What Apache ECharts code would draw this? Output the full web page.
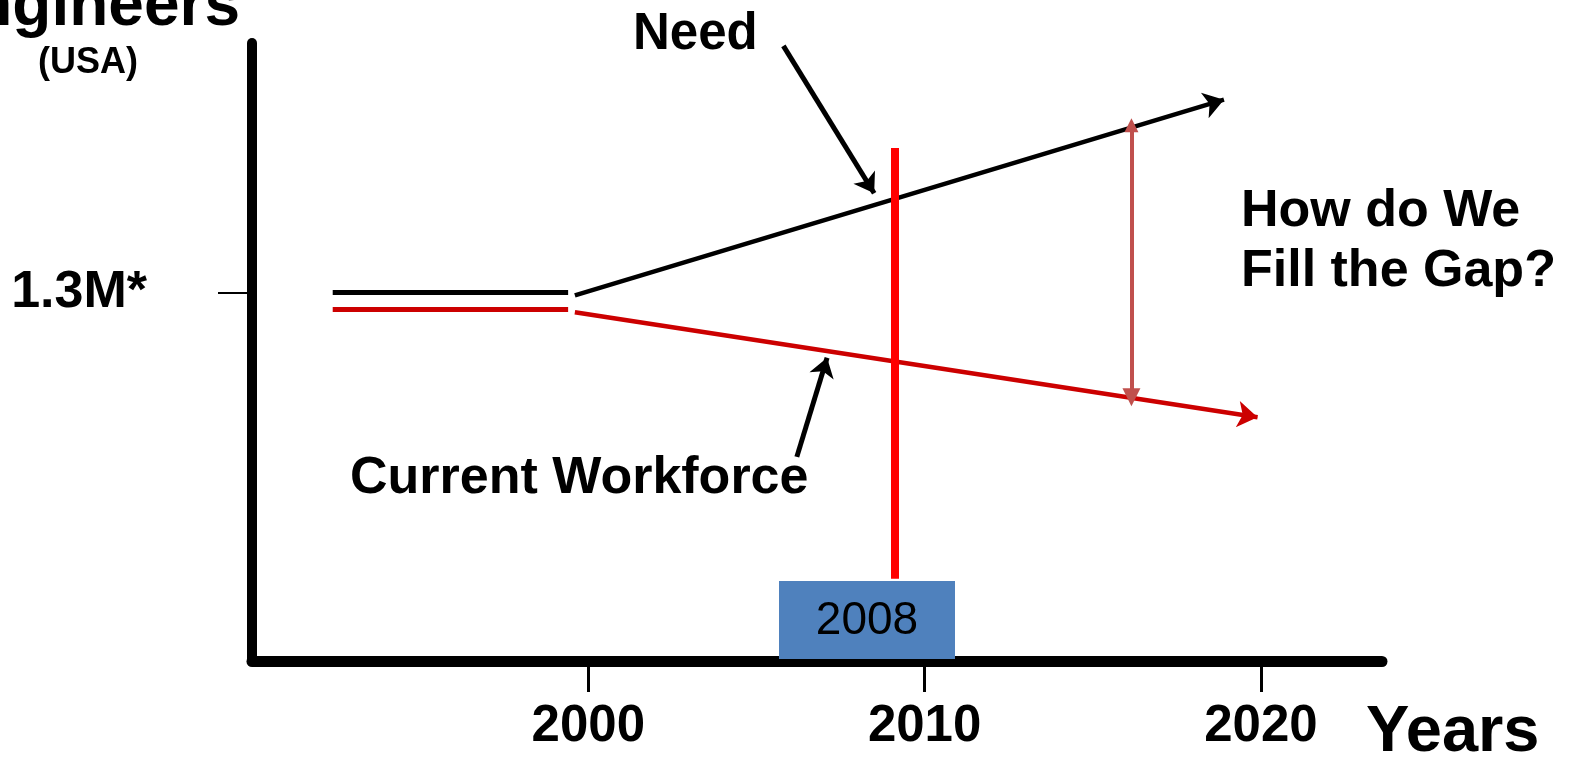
<!DOCTYPE html>
<html>
<head>
<meta charset="utf-8">
<script src="https://cdn.jsdelivr.net/npm/echarts@6/dist/echarts.min.js"></script>
<style>
  html, body { margin: 0; padding: 0; background: #fff; }
  #myChart { width: 1572px; height: 758px; }
</style>
</head>
<body>
<div id="myChart"></div>
<script>
  // axis ticks
  const xTicks = [2000, 2010, 2020];
  const yTicks = [1.3];
  const yTickLabels = ['1.3M*'];

  // engineers (millions) by year
  const needFlat = [[1992.4, 1.30], [1999.4, 1.30]];
  const needTrend = [[1999.6, 1.29], [2018.9, 1.98]];
  const workforceFlat = [[1992.4, 1.24], [1999.4, 1.24]];
  const workforceTrend = [[1999.6, 1.23], [2019.9, 0.86]];
  const gapLine = [[2016.15, 1.89], [2016.15, 0.93]];
  const nowLine = [[2009.1, 0.29], [2009.1, 1.81]];
  const needPointer = [[2005.8, 2.17], [2008.5, 1.65]];
  const workforcePointer = [[2006.2, 0.72], [2007.1, 1.07]];

  const FONT = 'Liberation Sans, Arial, sans-serif';

  let myChart = echarts.init(document.getElementById('myChart'));

  function arrowLines(name, coords, color, width, symbol, size) {
    return {
      name: name,
      type: 'lines',
      coordinateSystem: 'cartesian2d',
      symbol: symbol,
      symbolSize: size,
      lineStyle: { color: color, width: width, opacity: 1, type: 'solid' },
      data: [{ coords: coords }],
      z: 5
    };
  }

  function flatLine(name, data, color) {
    return {
      name: name,
      type: 'line',
      data: data,
      symbol: 'none',
      lineStyle: { color: color, width: 5 },
      z: 5
    };
  }

  function label(text, x, y, size, opts) {
    return {
      type: 'text', x: x, y: y, z: 100,
      style: Object.assign({
        text: text, fill: '#000', fontSize: size, fontWeight: 'bold', fontFamily: FONT,
        align: 'left', verticalAlign: 'middle'
      }, opts || {})
    };
  }

  myChart.setOption({
    animation: false,
    backgroundColor: '#fff',
    grid: {
      left: 252,
      right: 190,
      top: 43,
      bottom: 97,
      containLabel: false,
      outerBoundsMode: 'none'
    },
    xAxis: {
      type: 'value',
      min: 1990,
      max: 2023.6,
      splitLine: { show: false },
      axisLine: { show: true, lineStyle: { color: '#000', width: 11 } },
      axisTick: { show: true, customValues: xTicks, length: 31, lineStyle: { color: '#000', width: 3 } },
      axisLabel: {
        customValues: xTicks,
        margin: 40,
        color: '#000',
        fontSize: 51,
        fontWeight: 'bold',
        fontFamily: FONT,
        formatter: function (v) { return String(v); }
      }
    },
    yAxis: {
      type: 'value',
      min: 0,
      max: 2.18,
      splitLine: { show: false },
      axisLine: { show: true, lineStyle: { color: '#000', width: 10 } },
      axisTick: { show: true, customValues: yTicks, length: 34, lineStyle: { color: '#000', width: 2 } },
      axisLabel: {
        customValues: yTicks,
        margin: 105,
        color: '#000',
        fontSize: 52,
        fontWeight: 'bold',
        fontFamily: FONT,
        padding: [0, 0, 26, 0],
        formatter: function (v) {
          let i = yTicks.indexOf(v);
          return i >= 0 ? yTickLabels[i] : '';
        }
      }
    },
    series: [
      flatLine('Need', needFlat, '#000'),
      flatLine('Current Workforce', workforceFlat, '#CC0000'),
      arrowLines('Need trend', needTrend, '#000', 4.5, ['none', 'arrow'], 20),
      arrowLines('Workforce trend', workforceTrend, '#CC0000', 4.5, ['none', 'arrow'], 20),
      arrowLines('Gap', gapLine, '#C0504D', 4, ['triangle', 'triangle'], [14, 18]),
      arrowLines('2008', nowLine, '#FF0000', 8, ['none', 'none'], 0),
      arrowLines('Need pointer', needPointer, '#000', 5, ['none', 'arrow'], 19),
      arrowLines('Workforce pointer', workforcePointer, '#000', 5, ['none', 'arrow'], 19)
    ],
    graphic: [
      label('Engineers', 240, 39, 64, { align: 'right', verticalAlign: 'bottom' }),
      label('(USA)', 88, 63, 36, { align: 'center' }),
      label('Need', 633, 35, 51),
      label('How do We', 1241, 212, 52),
      label('Fill the Gap?', 1241, 272, 52),
      label('Current Workforce', 350, 479, 52),
      label('Years', 1366, 733, 65),
      {
        type: 'rect', z: 100,
        shape: { x: 779, y: 581, width: 176, height: 78 },
        style: { fill: '#4F81BD' }
      },
      label('2008', 867, 621, 46, { align: 'center', fontWeight: 'normal' })
    ]
  });
</script>
</body>
</html>
